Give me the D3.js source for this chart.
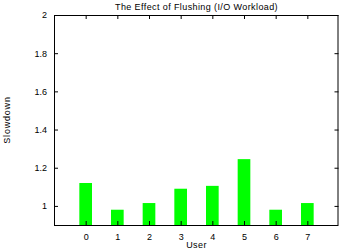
<!DOCTYPE html>
<html>
<head>
<meta charset="utf-8">
<script src="https://cdn.jsdelivr.net/npm/d3@7"></script>
<style>
  body { margin: 0; background: #fff; }
  text { font-family: "Liberation Sans", Arial, sans-serif; font-size: 9px; fill: #000; }
</style>
</head>
<body>
<div id="chart"></div>
<script>
var users = [0, 1, 2, 3, 4, 5, 6, 7];
var slowdown = [1.12, 0.98, 1.015, 1.09, 1.105, 1.245, 0.98, 1.015];
var yTicks = [1, 1.2, 1.4, 1.6, 1.8, 2];

var w = 339, h = 249;
var plotLeft = 54, plotRight = 339, plotTop = 15, plotBottom = 225;

var svg = d3.select("#chart").append("svg")
  .attr("width", w)
  .attr("height", h);

var x = d3.scaleLinear().domain([-1, 8]).range([plotLeft, plotRight]);
var y = d3.scaleLinear().domain([0.9, 2]).range([plotBottom, plotTop]);
var barW = x(0.4) - x(0);

// bars
svg.selectAll("rect.bar")
  .data(slowdown)
  .enter()
  .append("rect")
  .attr("class", "bar")
  .attr("x", function(d, i){ return x(users[i]) - barW / 2; })
  .attr("y", function(d){ return y(d); })
  .attr("width", barW)
  .attr("height", function(d){ return y(0.9) - y(d); })
  .attr("fill", "#00ff00");

// axes, ticks drawn inward and mirrored
var tl = 4;
svg.append("g").attr("transform", "translate(" + plotLeft + ",0)")
  .call(d3.axisLeft(y).tickValues(yTicks).tickSize(-tl).tickPadding(tl + 3).tickFormat(d3.format("")))
  .call(function(g){ g.select(".domain").remove(); });
svg.append("g").attr("transform", "translate(" + (plotRight - 0.5) + ",0)")
  .call(d3.axisRight(y).tickValues(yTicks).tickSize(-tl).tickFormat(""))
  .call(function(g){ g.select(".domain").remove(); });
svg.append("g").attr("transform", "translate(0," + plotBottom + ")")
  .call(d3.axisBottom(x).tickValues(users).tickSize(-tl).tickPadding(tl + 5).tickFormat(d3.format("d")))
  .call(function(g){ g.select(".domain").remove(); });
svg.append("g").attr("transform", "translate(0," + plotTop + ")")
  .call(d3.axisTop(x).tickValues(users).tickSize(-tl).tickFormat(""))
  .call(function(g){ g.select(".domain").remove(); });

svg.selectAll(".tick text").attr("font-size", 9).attr("font-family", null);
svg.selectAll(".tick line").attr("stroke", "#000");

// frame
svg.append("rect")
  .attr("x", plotLeft + 0.5)
  .attr("y", plotTop + 0.5)
  .attr("width", plotRight - plotLeft - 1.5)
  .attr("height", plotBottom - plotTop)
  .attr("fill", "none")
  .attr("stroke", "#000");

// labels
svg.append("text")
  .attr("x", (plotLeft + plotRight) / 2)
  .attr("y", 10)
  .attr("text-anchor", "middle")
  .attr("letter-spacing", 0.4)
  .text("The Effect of Flushing (I/O Workload)");
svg.append("text")
  .attr("x", (plotLeft + plotRight) / 2)
  .attr("y", 248)
  .attr("text-anchor", "middle")
  .attr("letter-spacing", 0.4)
  .text("User");
svg.append("text")
  .attr("transform", "translate(10,120) rotate(-90)")
  .attr("text-anchor", "middle")
  .attr("letter-spacing", 0.8)
  .text("Slowdown");
</script>
</body>
</html>
